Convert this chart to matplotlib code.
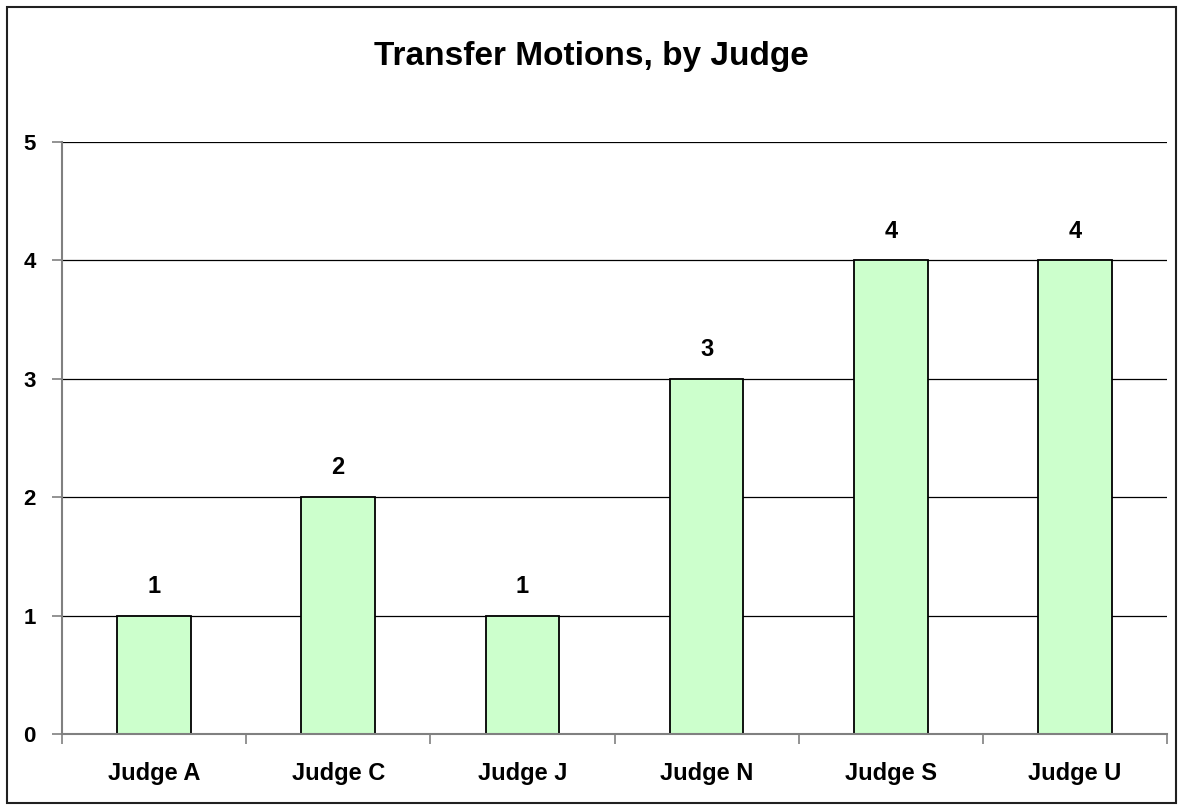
import matplotlib
matplotlib.use('Agg')
import matplotlib.pyplot as plt
from matplotlib.patches import Rectangle

judges = ['Judge A', 'Judge C', 'Judge J', 'Judge N', 'Judge S', 'Judge U']
motions = [1, 2, 1, 3, 4, 4]

plt.rcParams['font.family'] = ['Liberation Sans', 'DejaVu Sans']
plt.rcParams['font.weight'] = 'bold'

fig = plt.figure(figsize=(11.83, 8.10), dpi=100)
fig.patches.append(Rectangle((7/1183, 7/810), 1 - 14/1183, 1 - 14/810,
                             transform=fig.transFigure, fill=False,
                             edgecolor='#202020', linewidth=1.5))

ax = fig.add_axes([62/1183, 1 - 734/810, 1105/1183, 592/810])
x = range(len(judges))
bars = ax.bar(x, motions, width=0.40, color='#ccffcc', edgecolor='black',
              linewidth=1.3, zorder=3)
for xi, v in zip(x, motions):
    ax.text(xi, v + 0.15, str(v), ha='center', va='bottom',
            fontsize=17, fontweight='bold')

ax.set_xlim(-0.5, len(judges) - 0.5)
ax.set_ylim(0, 5)
ax.set_yticks(range(6))
ax.yaxis.grid(True, color='black', linewidth=0.9, zorder=0)

ax.set_xticks([i - 0.5 for i in range(len(judges) + 1)])
ax.set_xticklabels([])
ax.set_xticks(list(x), minor=True)
ax.set_xticklabels(judges, minor=True, fontsize=17, fontweight='bold')
ax.tick_params(axis='x', which='minor', length=0, pad=20)
ax.tick_params(axis='x', which='major', length=7, color='#808080', width=1.2)
ax.tick_params(axis='y', length=7, color='#808080', width=1.2,
               labelsize=16, pad=12)

for s in ['top', 'right']:
    ax.spines[s].set_visible(False)
for s in ['left', 'bottom']:
    ax.spines[s].set_color('#808080')
    ax.spines[s].set_linewidth(1.5)
    ax.spines[s].set_zorder(4)

fig.text(0.5, 1 - 56/810, 'Transfer Motions, by Judge', ha='center',
         va='center', fontsize=24, fontweight='bold')

fig.savefig('out.png', dpi=100)
